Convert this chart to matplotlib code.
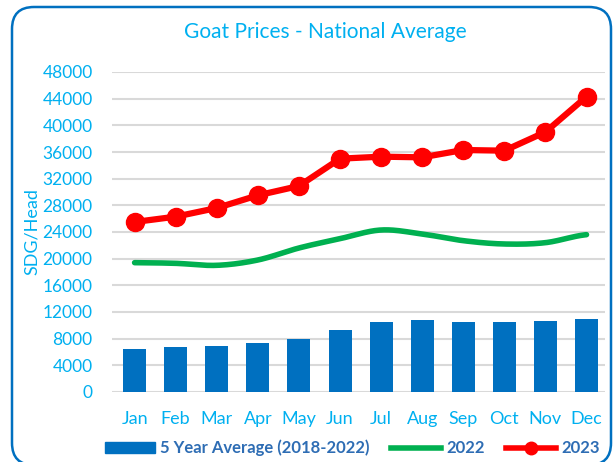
import numpy as np
import matplotlib.pyplot as plt
from matplotlib.patches import FancyBboxPatch, Patch
from matplotlib.lines import Line2D

months = ["Jan", "Feb", "Mar", "Apr", "May", "Jun", "Jul", "Aug", "Sep", "Oct", "Nov", "Dec"]
avg_5yr = [6500, 6750, 6950, 7400, 8000, 9250, 10500, 10750, 10500, 10450, 10650, 11000]
y2022 = [19400, 19300, 19000, 19800, 21600, 23000, 24300, 23700, 22700, 22200, 22400, 23600]
y2023 = [25500, 26300, 27600, 29500, 30900, 35000, 35300, 35200, 36300, 36200, 39000, 44300]

LIGHT = "#00B0F0"
BAR = "#0070C0"
GREEN = "#00B050"
RED = "#FF0000"

plt.rcParams["font.family"] = ["Lato", "DejaVu Sans"]

fig = plt.figure(figsize=(6.13, 4.62), dpi=100)
# rounded chart border, in inches (bottom edge falls just outside the picture)
border = FancyBboxPatch((0.12, -0.03), 5.99, 4.58, boxstyle="round,pad=0,rounding_size=0.22",
                        transform=fig.dpi_scale_trans, fill=False, edgecolor=BAR, linewidth=1.8)
fig.patches.append(border)

ax = fig.add_axes([112 / 613, 1 - 392 / 462, (605 - 112) / 613, (392 - 72) / 462])
x = np.arange(len(months))


def smooth(yv, xn):
    # Catmull-Rom curve through the monthly points (Excel-like smoothed line)
    yv = np.asarray(yv, float)
    out = []
    for t in xn:
        i = min(int(t), len(yv) - 2)
        s = t - i
        p0 = yv[max(i - 1, 0)]
        p1 = yv[i]
        p2 = yv[i + 1]
        p3 = yv[min(i + 2, len(yv) - 1)]
        out.append(0.5 * ((2 * p1) + (-p0 + p2) * s + (2 * p0 - 5 * p1 + 4 * p2 - p3) * s ** 2
                          + (-p0 + 3 * p1 - 3 * p2 + p3) * s ** 3))
    return np.array(out)


xs = np.linspace(0, 11, 300)
ax.bar(x, avg_5yr, width=0.56, color=BAR, zorder=2)
ax.plot(xs, smooth(y2022, xs), color=GREEN, linewidth=4, solid_capstyle="round", zorder=3)
ax.plot(x, y2023, color=RED, linewidth=4.5, marker="o", markersize=13, zorder=4)

ax.set_ylim(0, 48000)
ax.set_xlim(-0.55, 11.45)
ax.set_yticks(np.arange(0, 48001, 4000))
ax.set_xticks(x)
ax.set_xticklabels(months)
ax.grid(axis="y", color="#D9D9D9", linewidth=1.5, zorder=0)
ax.set_axisbelow(True)
for s in ax.spines.values():
    s.set_visible(False)
ax.tick_params(axis="y", length=0, labelsize=12.5, labelcolor=LIGHT, pad=14)
ax.tick_params(axis="x", length=0, labelsize=13, labelcolor=LIGHT, pad=14)
ax.set_ylabel("SDG/Head", color=LIGHT, fontsize=13, labelpad=2)

fig.text(0.53, 0.93, "Goat Prices - National Average", ha="center", va="center",
         color=LIGHT, fontsize=15)

handles = [Patch(color=BAR), Line2D([], [], color=GREEN, linewidth=4),
           Line2D([], [], color=RED, linewidth=4, marker="o", markersize=9)]
labels = ["5 Year Average (2018-2022)", "2022", "2023"]
leg = fig.legend(handles, labels, loc="center", bbox_to_anchor=(0.575, 0.03), ncol=3, frameon=False,
                 fontsize=12, handlelength=3.0, handleheight=0.6, columnspacing=1.3,
                 handletextpad=0.3, borderaxespad=0)
for t in leg.get_texts():
    t.set_color("#2E6DB4")
    t.set_fontweight("bold")

fig.savefig("out.png", dpi=100)
